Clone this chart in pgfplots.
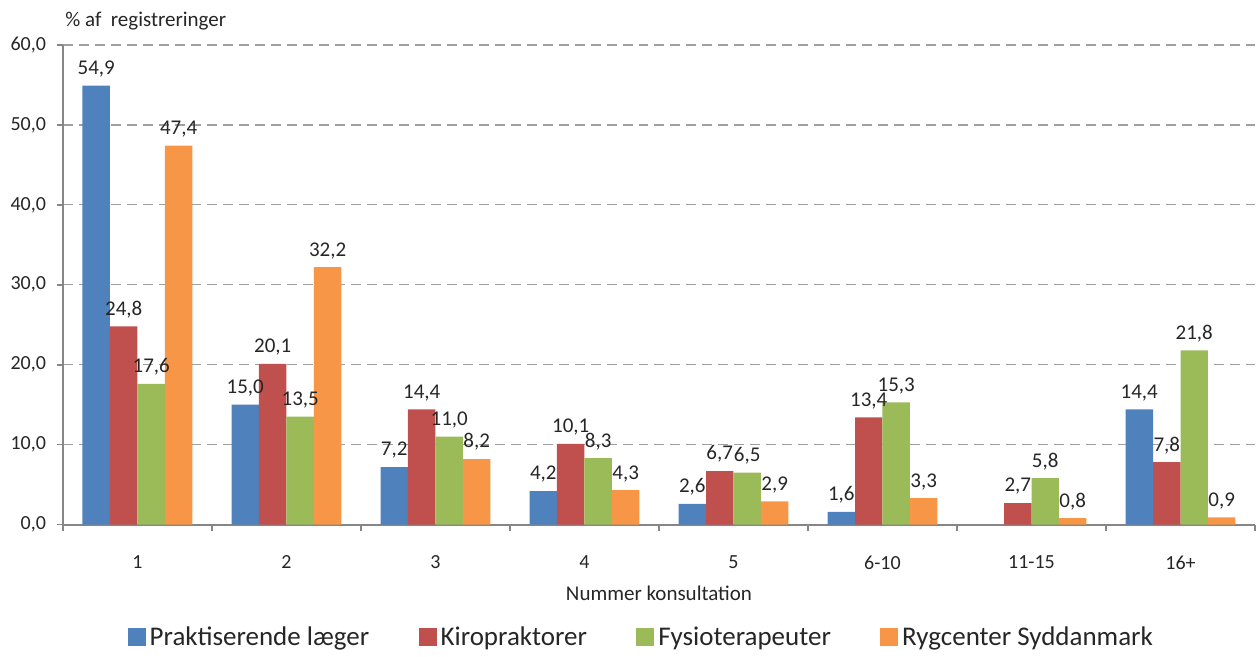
\documentclass[border=0pt]{standalone}
\usepackage{pgfplots}
\pgfplotsset{compat=1.18}
\usepackage{fontspec}
\setmainfont{Carlito}

\definecolor{cblue}{HTML}{4F81BD}
\definecolor{cred}{HTML}{C0504D}
\definecolor{cgreen}{HTML}{9BBB59}
\definecolor{corange}{HTML}{F79646}
\definecolor{axgray}{HTML}{868686}

\begin{document}
\begin{tikzpicture}
\begin{axis}[
    scale only axis,
    width=596.5pt, height=240pt,
    ybar=0pt,
    bar width=13.75pt,
    xmin=-0.5, xmax=7.5,
    ymin=0, ymax=60,
    ytick={0,10,...,60},
    xtick={0,...,7},
    xticklabels={1,2,3,4,5,6-10,11-15,16+},
    minor xtick={-0.5,0.5,...,7.5},
    major x tick style={draw=none},
    minor x tick style={axgray, line width=0.8pt},
    y tick style={axgray, line width=0.8pt},
    tick align=outside,
    major tick length=3pt,
    minor tick length=3pt,
    axis x line*=bottom,
    axis y line*=left,
    axis line style={axgray, line width=1pt, -},
    ymajorgrids=true,
    grid style={gray!75, line width=0.6pt, dash pattern=on 5pt off 3pt},
    tick label style={font=\fontsize{10}{12}\selectfont, text=black!85},
    xticklabel style={yshift=-9pt},
    yticklabel style={xshift=-2pt},
    /pgf/number format/.cd, fixed, fixed zerofill, precision=1, use comma, assume math mode=true,
    /pgfplots/.cd,
    xlabel={Nummer konsultation},
    xlabel style={at={(axis description cs:0.5,0)}, anchor=north, yshift=-27pt,
                  font=\fontsize{10.5}{12}\selectfont, text=black!85},
    nodes near coords={\pgfmathprintnumber[fixed,fixed zerofill,precision=1,use comma,assume math mode=true]{\pgfplotspointmeta}},
    every node near coord/.append style={font=\fontsize{10.5}{12}\selectfont, text=black!85, inner sep=1.5pt, yshift=2.5pt},
    legend columns=-1,
    legend style={draw=none, at={(axis description cs:0.486,-0.235)}, anchor=center,
                  font=\fontsize{13.5}{16}\selectfont, text=black!85,
                  /tikz/every even column/.append style={column sep=22.7pt}},
    legend image code/.code={\fill[#1] (0pt,-4.5pt) rectangle (9pt,4.5pt);},
    clip=false,
]
\addplot[fill=cblue, draw=none] coordinates {(0,54.9) (1,15.0) (2,7.2) (3,4.2) (4,2.6) (5,1.6) (7,14.4)};
\addlegendentry{Praktiserende læger}
\addplot[fill=cred, draw=none] coordinates {(0,24.8) (1,20.1) (2,14.4) (3,10.1) (4,6.7) (5,13.4) (6,2.7) (7,7.8)};
\addlegendentry{Kiropraktorer}
\addplot[fill=cgreen, draw=none] coordinates {(0,17.6) (1,13.5) (2,11.0) (3,8.3) (4,6.5) (5,15.3) (6,5.8) (7,21.8)};
\addlegendentry{Fysioterapeuter}
\addplot[fill=corange, draw=none] coordinates {(0,47.4) (1,32.2) (2,8.2) (3,4.3) (4,2.9) (5,3.3) (6,0.8) (7,0.9)};
\addlegendentry{Rygcenter Syddanmark}
\node[anchor=base west, font=\fontsize{10.5}{12}\selectfont, text=black!85, inner sep=0pt]
    at ([xshift=1pt, yshift=9pt]rel axis cs:0,1) {\% af~ registreringer};
\end{axis}
\path (current axis.south west) ++(-31.5pt,-64.5pt) rectangle ++(628pt,327pt);
\end{tikzpicture}
\end{document}
